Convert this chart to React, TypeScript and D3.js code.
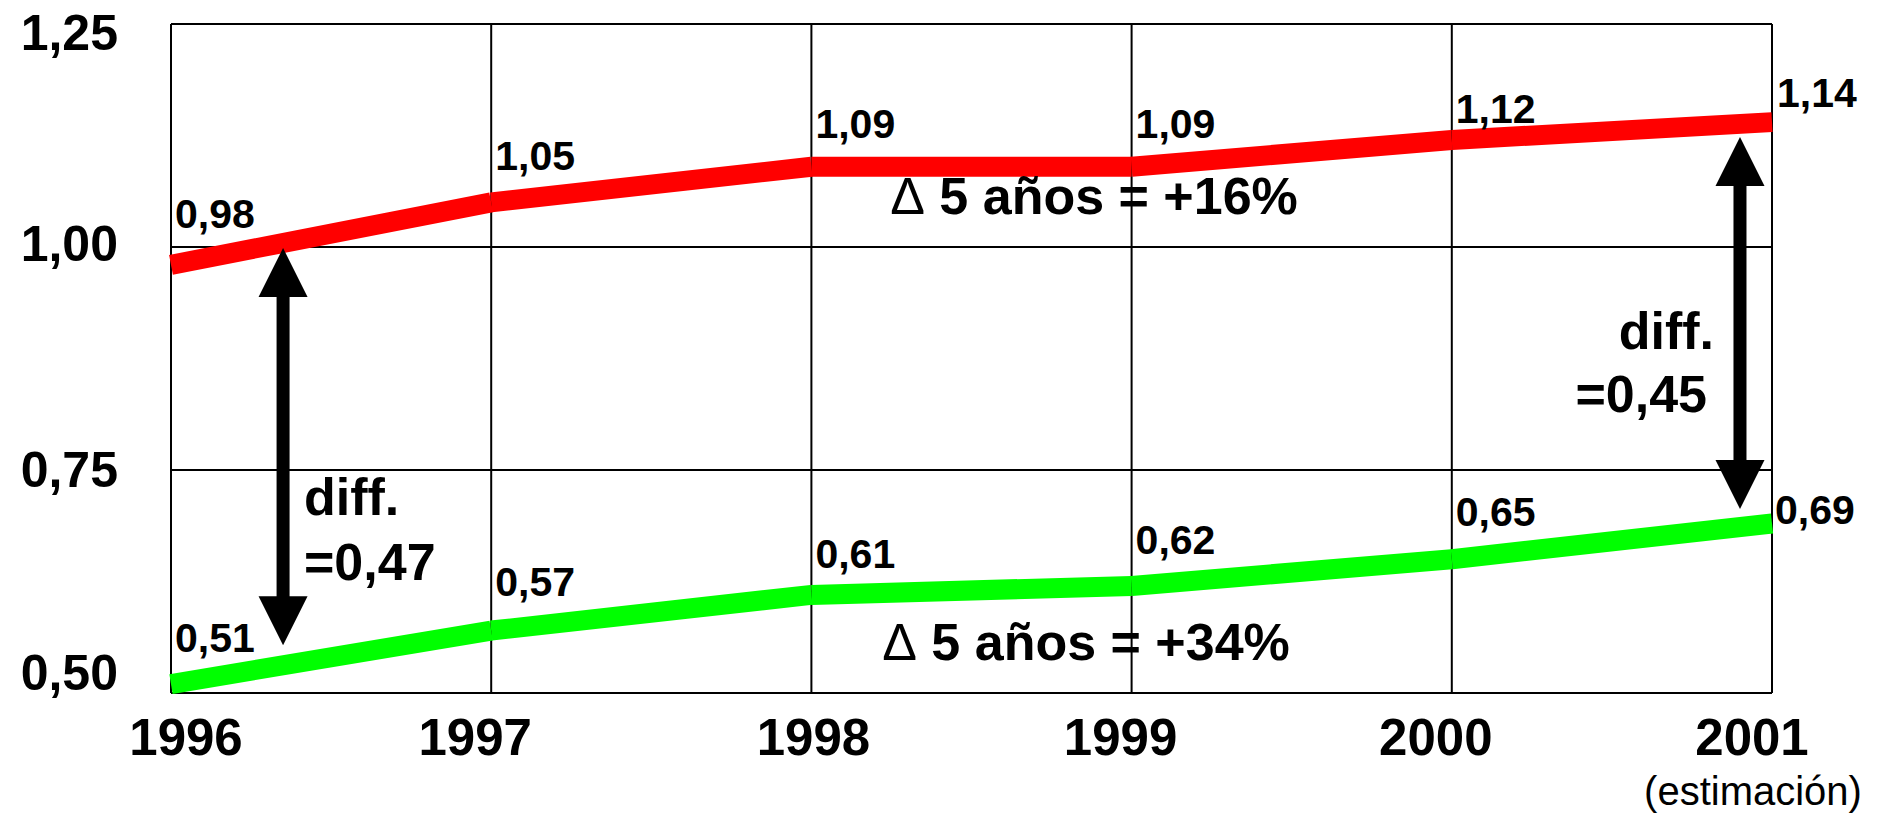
import React from "react";
import * as d3 from "d3";

const years = [1996, 1997, 1998, 1999, 2000, 2001];
const yearLabels = ["1996", "1997", "1998", "1999", "2000", "2001"];
const redValues = [0.98, 1.05, 1.09, 1.09, 1.12, 1.14];
const greenValues = [0.51, 0.57, 0.61, 0.62, 0.65, 0.69];
const yTicks = [0.5, 0.75, 1.0, 1.25];
const estimateNote = "(estimación)";
const redChange = { delta: "Δ", text: " 5 años = +16%" };
const greenChange = { delta: "Δ", text: " 5 años = +34%" };
const diffLeft = ["diff.", "=0,47"];
const diffRight = ["diff.", "=0,45"];

// layout tweaks (not data)
const redLabelDy = [-37, -32, -29, -29, -17, -15];
const greenLabelDy = [-32, -35, -27, -32, -33, 0];
const yearLabelDx = [15, -16, 2, -11, -16, -20];
const yTickBaseline = [-3, 17, 14, 26];

const W = 1888;
const H = 816;
const FONT = "'Liberation Sans', Arial, Helvetica, sans-serif";

const x = d3.scaleLinear().domain([1996, 2001]).range([171, 1772]);
const y = d3.scaleLinear().domain([0.5, 1.25]).range([693, 24]);
const fmt = (v: number) => d3.format(".2f")(v).replace(".", ",");

function interp(vals: number[], t: number) {
  const i = Math.min(Math.floor(t - 1996), vals.length - 2);
  const f = t - 1996 - i;
  return vals[i] + (vals[i + 1] - vals[i]) * f;
}

function DoubleArrow({ cx, y1, y2 }: { cx: number; y1: number; y2: number }) {
  const hw = 24.5;
  const hl = 49;
  const sw = 13;
  return (
    <g fill="#000">
      <rect x={cx - sw / 2} y={y1 + hl - 1} width={sw} height={y2 - y1 - 2 * hl + 2} />
      <path d={`M${cx},${y1} L${cx - hw},${y1 + hl} L${cx + hw},${y1 + hl} Z`} />
      <path d={`M${cx},${y2} L${cx - hw},${y2 - hl} L${cx + hw},${y2 - hl} Z`} />
    </g>
  );
}

export default function App() {
  const segs = (vals: number[]) =>
    vals.slice(0, -1).map((v, i) => [x(years[i]), y(v), x(years[i + 1]), y(vals[i + 1])]);

  const leftT = 1996.35;
  const rightT = 2000.9;
  const lx = x(leftT);
  const rx = x(rightT);

  return (
    <svg
      width={W}
      height={H}
      style={{ position: "absolute", left: 0, top: 0, background: "#fff" }}
      fontFamily={FONT}
    >
      <rect x={0} y={0} width={W} height={H} fill="#fff" />
      {/* grid */}
      <g stroke="#000" strokeWidth={2}>
        {yTicks.map((t) => (
          <line key={"h" + t} x1={x(1996)} x2={x(2001)} y1={y(t)} y2={y(t)} />
        ))}
        {years.map((yr) => (
          <line key={"v" + yr} x1={x(yr)} x2={x(yr)} y1={y(1.25)} y2={y(0.5)} />
        ))}
      </g>
      {/* y tick labels */}
      <g fontWeight="bold" fontSize={50} textAnchor="end" fill="#000">
        {yTicks.map((t, i) => (
          <text key={t} x={118} y={y(t) + yTickBaseline[i]}>
            {fmt(t)}
          </text>
        ))}
      </g>
      {/* x labels */}
      <g fontWeight="bold" fontSize={51} textAnchor="middle" fill="#000">
        {years.map((yr, i) => (
          <text key={yr} x={x(yr) + yearLabelDx[i]} y={755}>
            {yearLabels[i]}
          </text>
        ))}
      </g>
      <text x={x(2001) - 19} y={805} fontSize={40} textAnchor="middle" fill="#000">
        {estimateNote}
      </text>
      {/* lines */}
      <g strokeWidth={20} strokeLinecap="butt">
        {segs(redValues).map((s, i) => (
          <line key={"r" + i} x1={s[0]} y1={s[1]} x2={s[2]} y2={s[3]} stroke="#ff0000" />
        ))}
        {segs(greenValues).map((s, i) => (
          <line key={"g" + i} x1={s[0]} y1={s[1]} x2={s[2]} y2={s[3]} stroke="#00ff00" />
        ))}
      </g>
      {/* data labels */}
      <g fontWeight="bold" fontSize={41} fill="#000">
        {redValues.map((v, i) => (
          <text key={"rl" + i} x={x(years[i]) + (i === 5 ? 5 : 4)} y={y(v) + redLabelDy[i]}>
            {fmt(v)}
          </text>
        ))}
        {greenValues.map((v, i) => (
          <text key={"gl" + i} x={x(years[i]) + (i === 5 ? 3 : 4)} y={y(v) + greenLabelDy[i]}>
            {fmt(v)}
          </text>
        ))}
      </g>
      {/* change annotations */}
      <g fontWeight="bold" fontSize={52} fill="#000" textAnchor="middle">
        <text x={1094} y={214}>
          <tspan fontWeight="normal">{redChange.delta}</tspan>
          {redChange.text}
        </text>
        <text x={1086} y={660}>
          <tspan fontWeight="normal">{greenChange.delta}</tspan>
          {greenChange.text}
        </text>
      </g>
      {/* diff arrows */}
      <DoubleArrow cx={lx} y1={y(interp(redValues, leftT)) + 5} y2={y(interp(greenValues, leftT)) - 20} />
      <DoubleArrow cx={rx} y1={y(interp(redValues, rightT)) + 13} y2={y(interp(greenValues, rightT)) - 18} />
      <g fontWeight="bold" fontSize={52} fill="#000">
        <text x={304} y={515}>{diffLeft[0]}</text>
        <text x={304} y={580}>{diffLeft[1]}</text>
        <text x={1714} y={349} textAnchor="end">{diffRight[0]}</text>
        <text x={1707} y={412} textAnchor="end">{diffRight[1]}</text>
      </g>
    </svg>
  );
}
